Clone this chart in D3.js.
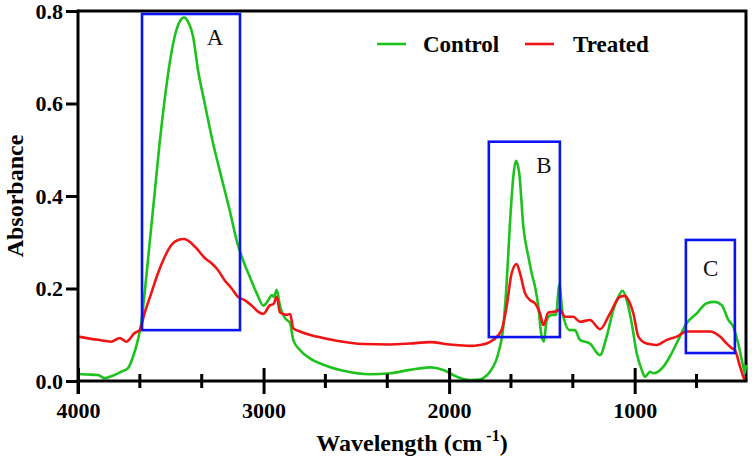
<!DOCTYPE html>
<html>
<head>
<meta charset="utf-8">
<script src="https://cdn.jsdelivr.net/npm/d3@7"></script>
<style>
  html, body { margin: 0; padding: 0; background: #fff; }
  svg { display: block; }
  text { font-family: "Liberation Serif", "Times New Roman", serif; }
</style>
</head>
<body>
<svg id="chart" width="752" height="467"></svg>
<script>
// ---- data ----
const controlWavenumber = [4000,3950,3892,3856,3810,3768,3730,3704,3677,3659,3641,3614,3587,3560,3533,3506,3479,3452,3429,3407,3380,3353,3317,3272,3228,3183,3141,3100,3075,3037,3001,2974,2956,2944,2929,2911,2884,2857,2840,2804,2750,2678,2570,2426,2319,2211,2103,2031,1959,1887,1834,1816,1780,1735,1708,1690,1672,1654,1640,1622,1600,1573,1555,1537,1519,1504,1489,1474,1447,1424,1406,1388,1349,1322,1295,1241,1187,1151,1115,1088,1065,1043,1016,989,962,944,917,899,845,810,765,720,666,612,567,531,495,468,442,415,406,400];
const controlAbsorbance = [0.015,0.014,0.013,0.006,0.012,0.020,0.028,0.052,0.089,0.125,0.190,0.298,0.406,0.515,0.608,0.687,0.745,0.777,0.786,0.777,0.745,0.672,0.600,0.514,0.442,0.370,0.298,0.250,0.226,0.190,0.163,0.175,0.186,0.182,0.197,0.161,0.136,0.125,0.089,0.067,0.049,0.035,0.022,0.0145,0.0166,0.024,0.0295,0.024,0.0093,0.002,0.003,0.006,0.020,0.060,0.117,0.211,0.341,0.442,0.476,0.449,0.334,0.269,0.233,0.204,0.161,0.103,0.085,0.132,0.143,0.143,0.208,0.146,0.110,0.110,0.089,0.081,0.056,0.096,0.154,0.182,0.195,0.175,0.125,0.060,0.024,0.009,0.020,0.0166,0.031,0.053,0.089,0.125,0.146,0.168,0.171,0.164,0.132,0.117,0.081,0.031,0.0166,0.035];

const treatedWavenumber = [4000,3892,3822,3775,3740,3694,3668,3641,3605,3569,3533,3497,3461,3429,3389,3353,3317,3282,3246,3210,3174,3138,3102,3066,3030,3001,2965,2947,2929,2911,2875,2857,2840,2804,2714,2606,2462,2319,2211,2103,1995,1887,1834,1798,1762,1717,1690,1663,1636,1618,1591,1564,1537,1510,1492,1465,1430,1402,1376,1331,1295,1241,1187,1133,1079,1052,1034,1007,980,935,881,827,773,720,648,594,540,504,477,460,432,406,400];
const treatedAbsorbance = [0.096,0.089,0.085,0.093,0.085,0.104,0.110,0.147,0.190,0.233,0.268,0.294,0.305,0.307,0.298,0.283,0.266,0.255,0.240,0.218,0.201,0.182,0.175,0.164,0.150,0.145,0.164,0.166,0.182,0.148,0.143,0.145,0.114,0.107,0.096,0.087,0.080,0.079,0.081,0.084,0.079,0.076,0.078,0.081,0.089,0.110,0.161,0.233,0.253,0.233,0.190,0.175,0.168,0.146,0.121,0.148,0.150,0.154,0.139,0.139,0.128,0.132,0.112,0.146,0.182,0.184,0.175,0.146,0.096,0.081,0.078,0.089,0.096,0.107,0.107,0.107,0.096,0.081,0.071,0.067,0.031,0.002,0.000];

const seriesNames = ["Control", "Treated"];
const seriesColors = ["#1ec21e", "#f01414"];

const xMajorTicks = [4000, 3000, 2000, 1000];
const xMinorTicks = [3666.7, 3333.3, 2666.7, 2333.3, 1666.7, 1333.3, 666.7];
const yTicks = [0.0, 0.2, 0.4, 0.6, 0.8];

// annotation boxes (wavenumber / absorbance extents)
const boxLabels = ["A", "B", "C"];
const boxW0 = [3655, 1786, 724];
const boxW1 = [3127, 1403, 460];
const boxA0 = [0.110, 0.095, 0.0605];
const boxA1 = [0.7935, 0.5174, 0.305];
const boxLabelW = [3262, 1489, 591];
const boxLabelA = [0.7265, 0.4497, 0.227];

// ---- layout ----
const svg = d3.select("#chart");
const L = 78, R = 746, T = 11, B = 381;
const x = d3.scaleLinear().domain([4000, 400]).range([L, R]);
const y = d3.scaleLinear().domain([0, 0.8]).range([B, T]);

// frame (top & right)
svg.append("path")
  .attr("d", `M${L},${T}H${R}V${B}`)
  .attr("fill", "none").attr("stroke", "#000").attr("stroke-width", 3);

// curves
const line = d3.line().x(d => x(d[0])).y(d => y(d[1])).curve(d3.curveMonotoneX);
const series = [
  d3.zip(controlWavenumber, controlAbsorbance),
  d3.zip(treatedWavenumber, treatedAbsorbance)
];
series.forEach((s, i) => {
  svg.append("path").datum(s)
    .attr("d", line)
    .attr("fill", "none")
    .attr("stroke", seriesColors[i])
    .attr("stroke-width", 2.6)
    .attr("stroke-linejoin", "round");
});

// boxes
boxLabels.forEach((lab, i) => {
  svg.append("rect")
    .attr("x", x(boxW0[i])).attr("y", y(boxA1[i]))
    .attr("width", x(boxW1[i]) - x(boxW0[i]))
    .attr("height", y(boxA0[i]) - y(boxA1[i]))
    .attr("fill", "none").attr("stroke", "#0a14f0").attr("stroke-width", 2.6);
  svg.append("text")
    .attr("x", x(boxLabelW[i])).attr("y", y(boxLabelA[i]))
    .attr("text-anchor", "middle")
    .attr("font-size", 23)
    .attr("fill", "#111")
    .text(lab);
});

// x axis
const xAxisG = svg.append("g").attr("transform", `translate(0,${B})`);
xAxisG.append("line").attr("x1", L - 1.5).attr("x2", R + 1.5).attr("stroke", "#000").attr("stroke-width", 3);
const xMaj = d3.axisBottom(x).tickValues(xMajorTicks).tickFormat(d3.format("d")).tickSize(0);
const xMajG = svg.append("g").attr("transform", `translate(0,${B})`).call(xMaj);
xMajG.select(".domain").remove();
xMajG.selectAll(".tick line").attr("y1", -13).attr("y2", 13).attr("stroke", "#000").attr("stroke-width", 3);
xMajG.selectAll(".tick text").attr("y", 37).attr("dy", 0)
  .attr("font-size", 22).attr("font-weight", "bold").attr("fill", "#000")
  .style("font-family", "'Liberation Serif', serif");
svg.append("g").selectAll("line").data(xMinorTicks).join("line")
  .attr("x1", d => x(d)).attr("x2", d => x(d))
  .attr("y1", B - 7).attr("y2", B + 7)
  .attr("stroke", "#000").attr("stroke-width", 3);

// y axis
const yAx = d3.axisLeft(y).tickValues(yTicks).tickFormat(d3.format(".1f")).tickSize(12).tickPadding(3);
const yG = svg.append("g").attr("transform", `translate(${L},0)`).call(yAx);
yG.select(".domain").remove();
yG.append("line").attr("y1", T - 1.5).attr("y2", B + 13).attr("stroke", "#000").attr("stroke-width", 3);
yG.selectAll(".tick line").attr("stroke", "#000").attr("stroke-width", 3);
yG.selectAll(".tick text").attr("font-size", 22).attr("font-weight", "bold").attr("fill", "#000")
  .style("font-family", "'Liberation Serif', serif");

// axis titles
svg.append("text")
  .attr("transform", `translate(23,${(T + B) / 2}) rotate(-90)`)
  .attr("text-anchor", "middle")
  .attr("font-size", 24).attr("font-weight", "bold")
  .text("Absorbance");

const xt = svg.append("text")
  .attr("x", (L + R) / 2).attr("y", 451)
  .attr("text-anchor", "middle")
  .attr("font-size", 24).attr("font-weight", "bold");
xt.append("tspan").text("Wavelength (cm");
xt.append("tspan").attr("font-size", 16).attr("dy", -10).text(" -1");
xt.append("tspan").attr("dy", 10).text(")");

// legend
const legX = [377, 525];
const legTextX = [423, 573];
seriesNames.forEach((n, i) => {
  svg.append("line")
    .attr("x1", legX[i]).attr("x2", legX[i] + 29)
    .attr("y1", 44).attr("y2", 44)
    .attr("stroke", seriesColors[i]).attr("stroke-width", 2.6);
  svg.append("text")
    .attr("x", legTextX[i]).attr("y", 52)
    .attr("font-size", 23).attr("font-weight", "bold")
    .text(n);
});
</script>
</body>
</html>
